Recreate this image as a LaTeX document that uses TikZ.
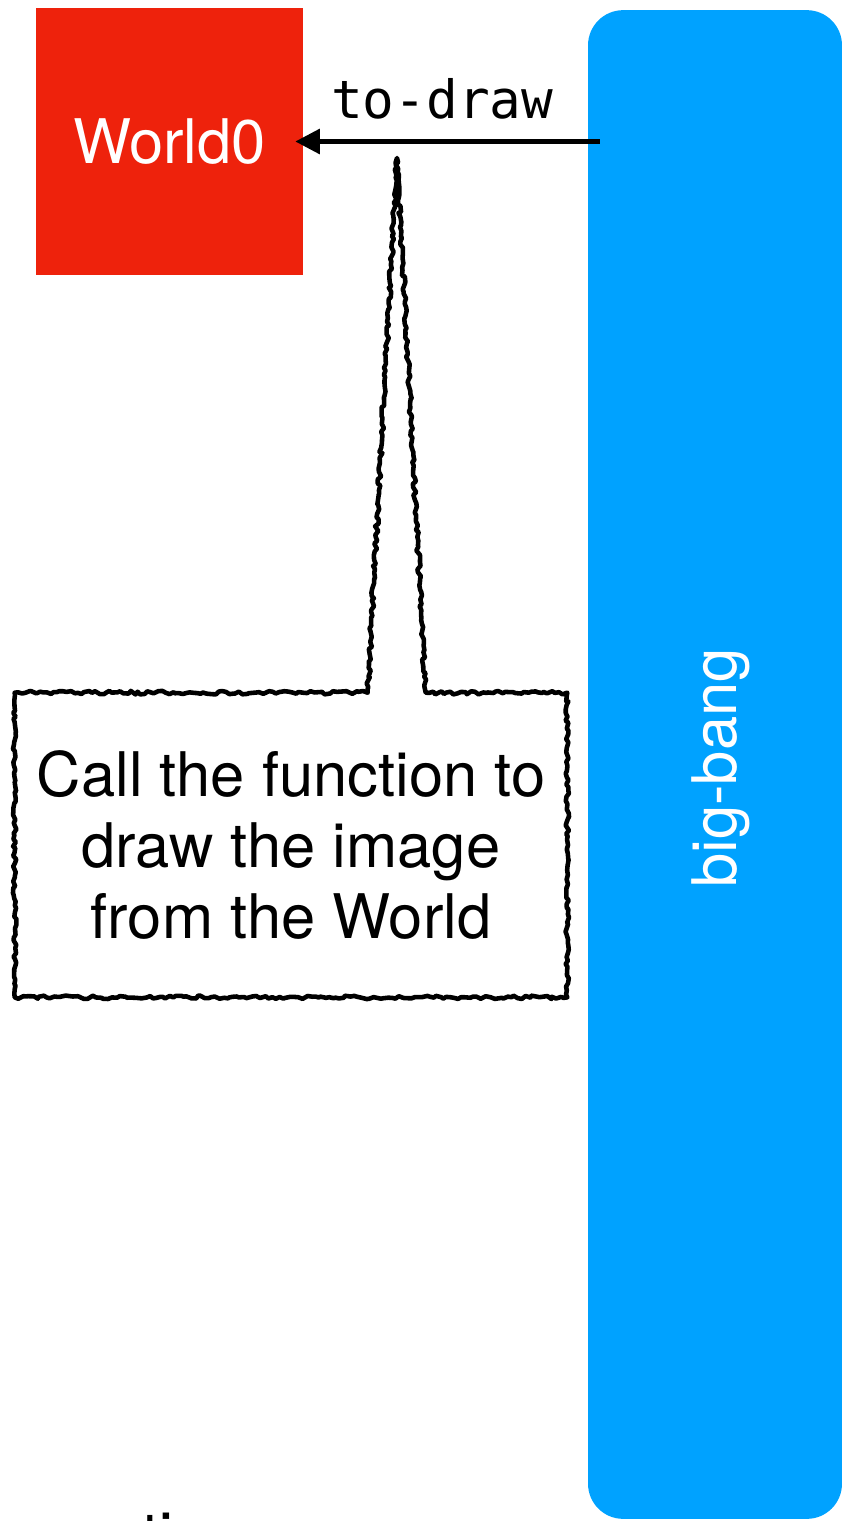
\documentclass[tikz,border=0pt]{standalone}
\usepackage{fontspec}
\setmainfont{TeX Gyre Heros}
\setmonofont{DejaVu Sans Mono}
\usepackage{xcolor}
\usepackage{tikz}
\usetikzlibrary{positioning,arrows.meta,calc,decorations.pathmorphing}
\definecolor{worldred}{HTML}{EE220C}
\definecolor{bangblue}{HTML}{00A2FF}

\begin{document}
\begin{tikzpicture}[
x=0.02cm,y=-0.02cm,
state/.style={
rectangle,fill=worldred,text=white,
minimum width=5.34cm,
minimum height=5.34cm,
font=\fontsize{35}{40}\selectfont
},
handler/.style={
rectangle,rounded corners=20pt,fill=bangblue,
minimum width=5.08cm,
minimum height=30.18cm
},
note/.style={
align=center,
minimum width=11.04cm,
minimum height=6.08cm,
font=\fontsize{35}{40.4}\selectfont
},
rough/.style={draw,line width=2.6pt,line join=round,decorate,
decoration={random steps,segment length=2pt,amplitude=1pt}},
arrow/.style={-{Triangle[length=14pt,width=14pt]},line width=2.5pt}
]
\pgfmathsetseed{7}
\useasboundingbox (0,0) rectangle (842,1521);

% WORLD
\node[state] (world) at (169.5,141.5) {World0};

% BIG-BANG
\node[handler] (bigbang) at (715,764.5) {};
\node[rotate=90,text=white,font=\fontsize{35}{40}\selectfont] (bblabel) at (721,768) {big-bang};

% TO-DRAW
\draw[arrow] ($(bigbang.west |- world.east)+(12,0)$) --
  node[above=8pt,xshift=-3pt,font=\ttfamily\fontsize{30}{36}\selectfont] (todraw) {to-draw}
  ($(world.east)+(-8,0)$);

% CALLOUT
\node[note] (call) at (291,845) {Call the function to\\draw the image\\from the World};
\coordinate (tip) at (397,158);
\draw[rough] (call.north west) -- ($(call.north west)+(353,0)$) -- (tip)
  -- ($(call.north west)+(411,0)$) -- (call.north east) -- (call.south east)
  -- (call.south west) -- cycle;

% NEXT LINE (cut off)
\node[anchor=base west,inner sep=0pt,font=\fontsize{35}{40}\selectfont] (cut) at (142,1556) {ti};

\end{tikzpicture}
\end{document}
